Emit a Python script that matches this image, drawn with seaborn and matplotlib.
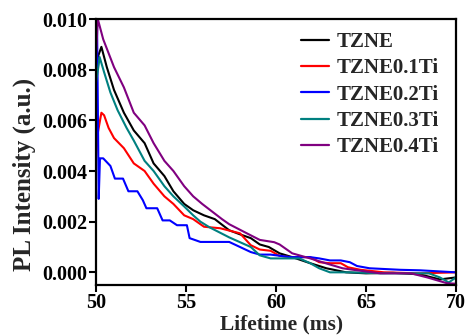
import numpy as np
import pandas as pd
import matplotlib
matplotlib.use("Agg")
import matplotlib.pyplot as plt
import seaborn as sns

labels = ["TZNE", "TZNE0.1Ti", "TZNE0.2Ti", "TZNE0.3Ti", "TZNE0.4Ti"]
colors = ["#000000", "#ff0000", "#0000ff", "#008080", "#800080"]

t_tzne = [50.0, 50.1, 50.3, 50.6, 51.0, 51.55, 52.1, 52.7, 53.2, 53.8, 54.3, 54.9, 55.4, 56.0,
          56.6, 57.4, 58.0, 58.6, 59.1, 59.6, 60.2, 60.9, 61.9, 62.8, 63.9, 65.0, 66.5, 68.0, 69.1, 70.0]
v_tzne = [0.0074, 0.0085, 0.0089, 0.0081, 0.0072, 0.0063, 0.0056, 0.0051, 0.0043, 0.0038, 0.0032,
          0.0027, 0.00245, 0.00225, 0.0021, 0.00166, 0.00150, 0.00135, 0.00110, 0.00100, 0.00075,
          0.00060, 0.00036, 0.00016, 0.0, -0.00004, -0.00002, -0.00008, -0.00028, -0.0002]

t_01 = [50.0, 50.1, 50.3, 50.45, 50.7, 51.0, 51.55, 52.1, 52.7, 53.2, 53.8, 54.3, 54.9, 55.4, 56.0,
        56.9, 58.0, 58.6, 59.1, 59.7, 60.2, 60.8, 61.9, 62.4, 63.0, 63.6, 64.0, 64.7, 66.0, 68.0, 70.0]
v_01 = [0.0045, 0.0055, 0.0063, 0.0062, 0.0057, 0.0053, 0.0049, 0.0043, 0.0040, 0.0035, 0.0030,
        0.0027, 0.00225, 0.0021, 0.0018, 0.00174, 0.00154, 0.00107, 0.00090, 0.00085, 0.00065,
        0.0006, 0.0006, 0.0004, 0.00036, 0.00036, 0.0002, 0.0001, 0.0, -0.00004, 0.0]

t_02 = [50.05, 50.15, 50.22, 50.4, 50.8, 51.05, 51.5, 51.8, 52.3, 52.6, 52.8, 53.4, 53.7, 54.1,
        54.5, 55.05, 55.2, 55.8, 57.4, 58.0, 58.6, 59.1, 59.7, 60.8, 61.9, 62.4, 63.0, 63.6, 64.1,
        64.5, 65.2, 66.9, 68.0, 70.0]
v_02 = [0.0105, 0.0029, 0.0045, 0.0045, 0.0042, 0.0037, 0.0037, 0.0032, 0.0032, 0.00285, 0.00253,
        0.00253, 0.00205, 0.00205, 0.00186, 0.00186, 0.00135, 0.0012, 0.0012, 0.0010, 0.0008,
        0.0007, 0.0007, 0.0006, 0.0006, 0.00055, 0.00047, 0.00047, 0.0004, 0.00025, 0.00016,
        0.0001, 0.00008, 0.0]

t_03 = [50.0, 50.15, 50.2, 50.45, 50.8, 51.2, 51.7, 52.1, 52.7, 53.2, 53.8, 54.3, 54.9, 55.4, 55.8,
        56.3, 57.4, 58.6, 59.1, 59.7, 61.3, 61.9, 62.4, 63.0, 64.0, 66.0, 68.5, 69.1, 69.6, 70.0]
v_03 = [0.0075, 0.0082, 0.0085, 0.0079, 0.0071, 0.0064, 0.0057, 0.0052, 0.0044, 0.0040, 0.0034,
        0.0030, 0.0026, 0.00225, 0.0020, 0.00178, 0.00138, 0.0010, 0.00067, 0.00055, 0.00055,
        0.00036, 0.00016, 0.0, 0.0, -0.00004, -0.00004, -0.0002, -0.0004, -0.0002]

t_04 = [50.0, 50.1, 50.4, 51.0, 51.55, 52.1, 52.7, 53.2, 53.8, 54.3, 54.9, 55.4, 55.9, 57.0, 57.4,
        58.6, 59.1, 59.9, 60.2, 60.9, 61.9, 62.8, 63.7, 64.5, 65.8, 67.5, 68.4, 69.5, 70.0]
v_04 = [0.0085, 0.0100, 0.0092, 0.0081, 0.0073, 0.0063, 0.0058, 0.0051, 0.0044, 0.0040, 0.0034,
        0.0030, 0.0027, 0.0021, 0.0019, 0.00146, 0.00128, 0.00119, 0.00110, 0.00075, 0.00055,
        0.00035, 0.00016, 0.00008, -0.00004, -0.00004, -0.0002, -0.00043, -0.00045]

x_ticks = [50, 55, 60, 65, 70]
y_ticks = [0.000, 0.002, 0.004, 0.006, 0.008, 0.010]
y_tick_labels = ["0.000", "0.002", "0.004", "0.006", "0.008", "0.010"]

series = [(t_tzne, v_tzne), (t_01, v_01), (t_02, v_02), (t_03, v_03), (t_04, v_04)]
frames = []
for lab, (t, v) in zip(labels, series):
    frames.append(pd.DataFrame({"t": t, "v": v, "sample": lab}))
df = pd.concat(frames, ignore_index=True)

sns.set_theme(style="ticks")
plt.rcParams["font.family"] = ["Liberation Serif", "DejaVu Serif"]
plt.rcParams["font.weight"] = "bold"
plt.rcParams["axes.labelweight"] = "bold"

fig = plt.figure(figsize=(4.66, 3.35), dpi=100)
ax = fig.add_axes([96/466, 1-285/335, 360/466, 266/335])

sns.lineplot(data=df, x="t", y="v", hue="sample", hue_order=labels,
             palette=dict(zip(labels, colors)), sort=False, estimator=None,
             linewidth=1.5, ax=ax)

ax.set_xlim(50, 70)
ax.set_ylim(-0.0005, 0.010)
ax.set_xticks(x_ticks)
ax.set_xticklabels([str(x) for x in x_ticks])
ax.set_yticks(y_ticks)
ax.set_yticklabels(y_tick_labels)
ax.tick_params(axis="both", direction="out", length=5, width=1.5, labelsize=14.5, pad=1,
               colors="black")
for lbl in ax.get_xticklabels() + ax.get_yticklabels():
    lbl.set_fontweight("bold")
for s in ax.spines.values():
    s.set_linewidth(1.6)
    s.set_color("black")
    s.set_visible(True)

ax.set_xlabel("Lifetime (ms)", fontsize=15.5, fontweight="bold")
ax.set_ylabel("PL Intensity (a.u.)", fontsize=18, fontweight="bold")
ax.xaxis.set_label_coords(0.515, -0.11)
ax.yaxis.set_label_coords(-0.166, 0.414)

leg = ax.legend(loc="upper left", bbox_to_anchor=(0.54, 0.99), frameon=False,
                handlelength=1.35, handletextpad=0.35, labelspacing=0.3,
                borderpad=0, prop={"weight": "bold", "size": 15})
for line in leg.get_lines():
    line.set_linewidth(1.6)

fig.savefig("out.png", dpi=100)
